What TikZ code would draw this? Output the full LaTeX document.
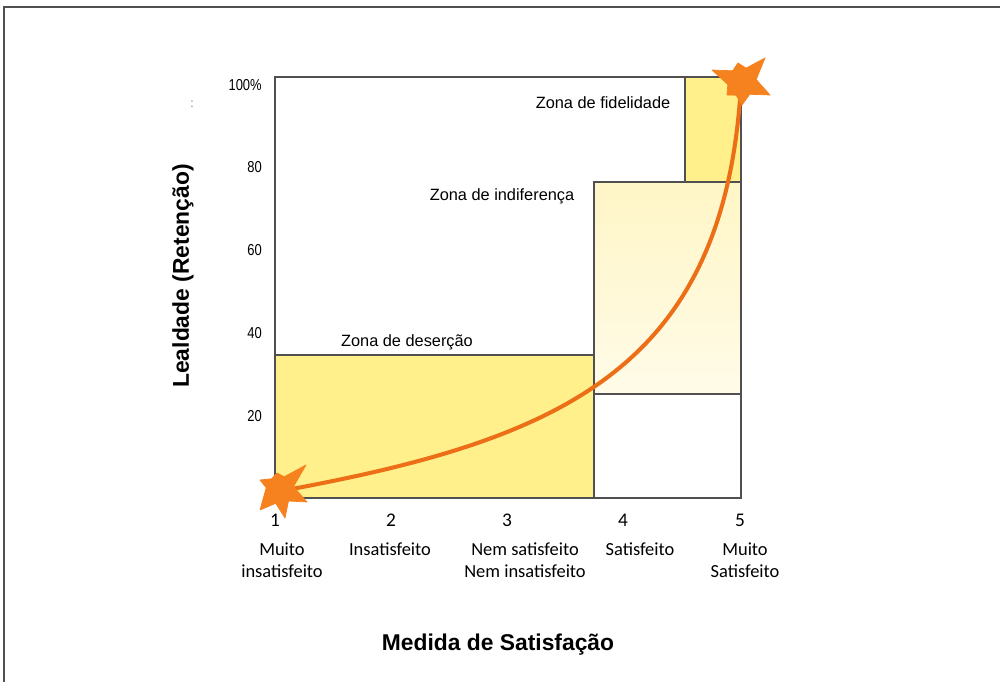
\documentclass[tikz,border=0pt]{standalone}
\usepackage{fontspec}
\setmainfont{Liberation Sans}
\newfontfamily\catfont{Carlito}
\definecolor{zoneyellow}{HTML}{FFF08C}
\definecolor{paleyellow}{HTML}{FFF6C6}
\definecolor{paleryellow}{HTML}{FFFBE8}
\definecolor{starorange}{HTML}{F5821F}
\definecolor{curveorange}{HTML}{EC6E16}
\definecolor{edgegray}{HTML}{505050}
\tikzset{
  zone/.style={draw=edgegray, line width=0.85pt},
  tick/.style={inner sep=0, anchor=east, xscale=0.82, font=\fontsize{9}{10}\selectfont},
  zonelabel/.style={inner sep=0, font=\fontsize{9.3}{11}\selectfont},
  num/.style={inner sep=0, font=\catfont\fontsize{11}{13}\selectfont},
  cat/.style={inner sep=0, align=center, font=\catfont\fontsize{10.5}{12.5}\selectfont},
  axtitle/.style={inner sep=0, font=\bfseries\fontsize{13}{15}\selectfont},
  burst/.style={fill=starorange, draw=starorange, line width=0.4pt, line join=round}
}
\begin{document}
\begin{tikzpicture}[x=0.02cm, y=-0.02cm]
\useasboundingbox (0,0) rectangle (1000,682);
\fill[white] (0,0) rectangle (1000,682);
\draw[edgegray, line width=1.1pt] (4,682) -- (4,7) -- (1000,7);
\fill[zoneyellow] (275,355) rectangle (594,498);
\shade[top color=paleyellow, bottom color=paleryellow] (594,182) rectangle (741,394);
\fill[zoneyellow] (685,77) rectangle (741,182);
\draw[zone] (275,355) -- (594,355);
\draw[zone] (594,498) -- (594,182) -- (741,182);
\draw[zone] (594,394) -- (741,394);
\draw[zone] (685,77) -- (685,182);
\draw[zone] (275,77) rectangle (741,498);
\node[tick] (t100) at (262,85){100\%};
\node[tick] (t80) at (262,167){80};
\node[tick] (t60) at (262,250){60};
\node[tick] (t40) at (262,333){40};
\node[tick] (t20) at (262,416){20};
\node[inner sep=0, gray, font=\scriptsize] (dots) at (192,104){:};
\node[zonelabel] (zfid) at (603,103){Zona de fidelidade};
\node[zonelabel] (zind) at (502,196){Zona de indiferença};
\node[zonelabel] (zdes) at (407,342){Zona de deserção};
\node[num] (n1) at (275,520){1};
\node[num] (n2) at (391,520){2};
\node[num] (n3) at (507,520){3};
\node[num] (n4) at (623,520){4};
\node[num] (n5) at (740,520){5};
\node[cat] (c1) at (282,560){Muito\\insatisfeito};
\node[cat] (c2) at (390,549){Insatisfeito};
\node[cat] (c3) at (525,560){Nem satisfeito\\Nem insatisfeito};
\node[cat] (c4) at (640,549){Satisfeito};
\node[cat] (c5) at (745,560){Muito\\Satisfeito};
\node[axtitle] (xt) at (498,645){Medida de Satisfação};
\node[axtitle, rotate=90] (yt) at (183,276){Lealdade (Retenção)};
\coordinate (plo) at (281,491);
\coordinate (phi) at (741,84);
\coordinate (slo) at (280,490);
\coordinate (shi) at (742,82);
\draw[curveorange, line width=2.3pt] (plo) .. controls (560,440) and (725,370) .. (phi);
\fill[burst, shift={(slo)}] (26,-25) -- (4.3,-13.3) -- (-3,-17) -- (-8.4,-11.2) -- (-20,-10) -- (-13.8,-2.2)
  -- (-20,20) -- (-4.3,13.3) -- (5,28) -- (8.5,11) -- (27,12) -- (13.5,-3.4) -- cycle;
\fill[burst, shift={(shi)}] (23,-24) -- (4.1,-13.9) -- (-4,-19) -- (-9.3,-11.2) -- (-30,-12) -- (-14.2,2.5)
  -- (-15,13) -- (-5.9,13.2) -- (0,23) -- (7.7,12.3) -- (28,13) -- (14.2,-2.5) -- cycle;
\end{tikzpicture}
\end{document}
